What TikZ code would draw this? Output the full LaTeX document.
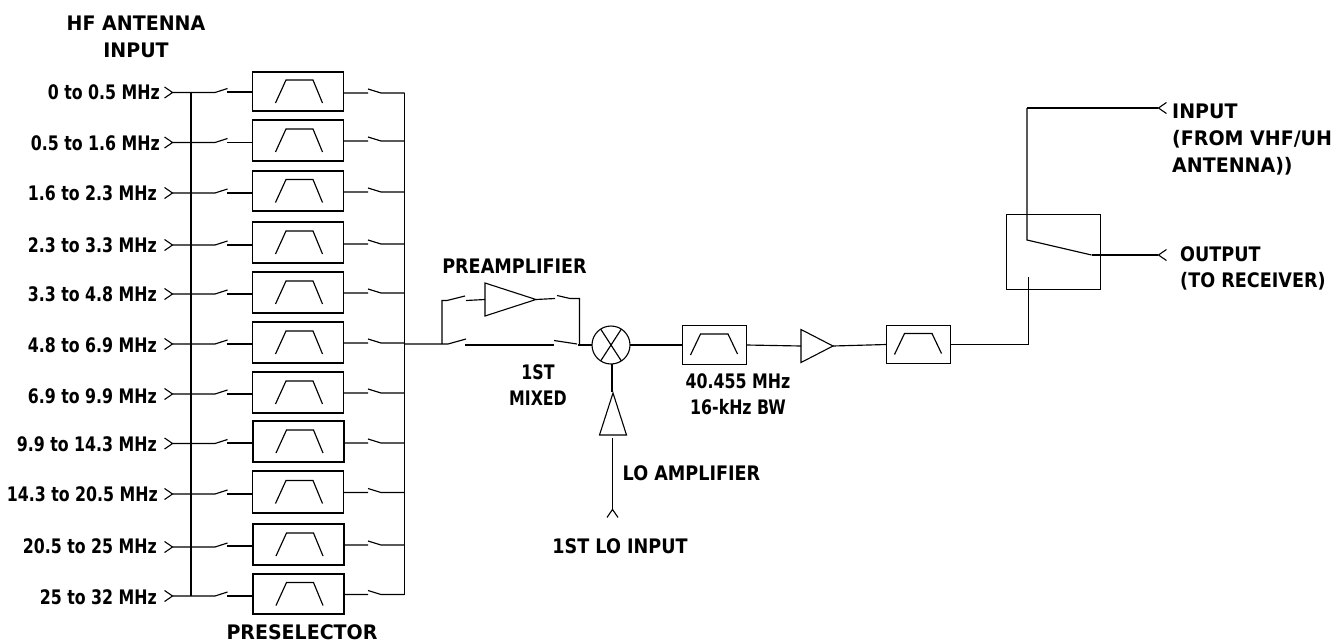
\documentclass[tikz,border=0pt]{standalone}
\usepackage{fontspec}
\setmainfont{DejaVu Sans}
\newfontfamily\bandfont[FakeStretch=0.79]{DejaVu Sans}
\newfontfamily\midfont[FakeStretch=0.88]{DejaVu Sans}
\newfontfamily\widefont[FakeStretch=0.95]{DejaVu Sans}
\usetikzlibrary{arrows.meta,positioning,calc,shapes.geometric}
\tikzset{
  wire/.style={line width=1.15pt},
  jack/.style={wire, {Straight Barb[reversed,length=8pt,width=11pt,line width=1.1pt]}-},
  jackend/.style={wire, -{Straight Barb[reversed,length=8pt,width=11pt,line width=1.1pt]}},
  filterbox/.style={draw, line width=1.3pt, minimum width=91pt, minimum height=41pt, inner sep=0pt, outer sep=0pt,
    path picture={\draw[wire] ($(path picture bounding box.center)+(-22.5,11.5)$) -- ++(10.5,-23) -- ++(27,0) -- ++(9.5,23);}},
  smallfilter/.style={draw, line width=1.2pt, minimum width=64pt, minimum height=38.5pt, inner sep=0pt, outer sep=0pt,
    path picture={\draw[wire] ($(path picture bounding box.center)+(-24,10)$) -- ++(10,-21) -- ++(27.5,0) -- ++(9.5,20);}},
  amptri/.style={draw, line width=1.1pt, isosceles triangle, isosceles triangle stretches, inner sep=0pt, outer sep=0pt},
  caption/.style={font=\midfont\fontsize{20}{26}\selectfont\bfseries, align=center, inner sep=0pt},
  widecaption/.style={caption, font=\widefont\fontsize{20}{27}\selectfont\bfseries},
  narrowcaption/.style={caption, font=\bandfont\fontsize{20}{26}\selectfont\bfseries},
  bandlabel/.style={narrowcaption, anchor=east}
}
\begin{document}
\begin{tikzpicture}[x=1pt, y=-1pt]
  \useasboundingbox (0,0) rectangle (1344,643);

  % Antenna title
  \node[widecaption] (hftitle) at (136,37) {HF ANTENNA\\INPUT};

  % Band 1
  \node[bandlabel] (band1) at (160,92) {0 to 0.5 MHz};
  \node[filterbox, minimum height=39pt] (filt1) at (298,91.5) {};
  \draw[jack] (164,92.5) -- (215,92.5) -- ++(12.5,-4);
  \draw[wire] (227,92) -- (filt1.west |- 0,92);
  \draw[wire] (filt1.east |- 0,93) -- (368,93) ++(0,-4) -- ++(13,4) -- (404.5,93);

  % Band 2
  \node[bandlabel] (band2) at (160,143.5) {0.5 to 1.6 MHz};
  \node[filterbox] (filt2) at (298,140.5) {};
  \draw[jack] (164,142.5) -- (215,142.5) -- ++(12.5,-4);
  \draw[wire] (227,142.5) -- (filt2.west |- 0,142.5);
  \draw[wire] (filt2.east |- 0,141) -- (368,141) ++(0,-4) -- ++(13,4) -- (404.5,141);

  % Band 3
  \node[bandlabel] (band3) at (157,193.5) {1.6 to 2.3 MHz};
  \node[filterbox, minimum height=40pt] (filt3) at (298,191) {};
  \draw[jack] (164,193) -- (215,193) -- ++(12.5,-4);
  \draw[wire] (227,193) -- (filt3.west |- 0,193);
  \draw[wire] (filt3.east |- 0,192) -- (368,192) ++(0,-4) -- ++(13,4) -- (404.5,192);

  % Band 4
  \node[bandlabel] (band4) at (157,245) {2.3 to 3.3 MHz};
  \node[filterbox] (filt4) at (298,242.5) {};
  \draw[jack] (164,245) -- (215,245) -- ++(12.5,-4);
  \draw[wire] (227,245) -- (filt4.west |- 0,245);
  \draw[wire] (filt4.east |- 0,244) -- (368,244) ++(0,-4) -- ++(13,4) -- (404.5,244);

  % Band 5
  \node[bandlabel] (band5) at (157,294) {3.3 to 4.8 MHz};
  \node[filterbox] (filt5) at (298,292.5) {};
  \draw[jack] (164,294) -- (215,294) -- ++(12.5,-4);
  \draw[wire] (227,294) -- (filt5.west |- 0,294);
  \draw[wire] (filt5.east |- 0,293) -- (368,293) ++(0,-4) -- ++(13,4) -- (404.5,293);

  % Band 6
  \node[bandlabel] (band6) at (157,345) {4.8 to 6.9 MHz};
  \node[filterbox] (filt6) at (298,342.5) {};
  \draw[jack] (164,344) -- (215,344) -- ++(12.5,-4);
  \draw[wire] (227,344) -- (filt6.west |- 0,344);
  \draw[wire] (filt6.east |- 0,343) -- (368,343) ++(0,-4) -- ++(13,4) -- (404.5,343);

  % Band 7
  \node[bandlabel] (band7) at (157,396) {6.9 to 9.9 MHz};
  \node[filterbox] (filt7) at (298,392.5) {};
  \draw[jack] (164,394) -- (215,394) -- ++(12.5,-4);
  \draw[wire] (227,394) -- (filt7.west |- 0,394);
  \draw[wire] (filt7.east |- 0,393) -- (368,393) ++(0,-4) -- ++(13,4) -- (404.5,393);

  % Band 8
  \node[bandlabel] (band8) at (157,444) {9.9 to 14.3 MHz};
  \node[filterbox] (filt8) at (298.5,441.5) {};
  \draw[jack] (164,443.5) -- (215,443.5) -- ++(12.5,-4);
  \draw[wire] (227,443) -- (filt8.west |- 0,443);
  \draw[wire] (filt8.east |- 0,443) -- (368,443) ++(0,-4) -- ++(13,4) -- (404.5,443);

  % Band 9
  \node[bandlabel] (band9) at (158,494) {14.3 to 20.5 MHz};
  \node[filterbox, minimum height=42pt] (filt9) at (298,492) {};
  \draw[jack] (164,494) -- (215,494) -- ++(12.5,-4);
  \draw[wire] (227,494) -- (filt9.west |- 0,494);
  \draw[wire] (filt9.east |- 0,492.5) -- (368,492.5) ++(0,-4) -- ++(13,4) -- (404.5,492.5);

  % Band 10
  \node[bandlabel] (band10) at (157,546) {20.5 to 25 MHz};
  \node[filterbox] (filt10) at (298.5,544.5) {};
  \draw[jack] (164,547) -- (215,547) -- ++(12.5,-4);
  \draw[wire] (227,546) -- (filt10.west |- 0,546);
  \draw[wire] (filt10.east |- 0,545) -- (368,545) ++(0,-4) -- ++(13,4) -- (404.5,545);

  % Band 11
  \node[bandlabel] (band11) at (157,597) {25 to 32 MHz};
  \node[filterbox, minimum height=40pt] (filt11) at (298.5,594) {};
  \draw[jack] (164,596) -- (215,596) -- ++(12.5,-4);
  \draw[wire] (227,596) -- (filt11.west |- 0,596);
  \draw[wire] (filt11.east |- 0,594.5) -- (368,594.5) ++(0,-4) -- ++(13,4) -- (404.5,594.5);

  % Input and output buses
  \draw[wire] (191,92.5) -- (191,596);
  \draw[wire] (404.5,92.5) -- (404.5,595);

  \node[widecaption] (preselector) at (302,632) {PRESELECTOR};

  % Preamplifier path
  \node[amptri, minimum width=33pt, minimum height=51pt, anchor=lower side] (preamp) at (485,299.5) {};
  \node[caption] (preamplabel) at (514.5,266) {PREAMPLIFIER};
  \draw[wire] (404.5,344) -- (448,344) -- ++(18,-5);
  \draw[wire] (442,344) |- (447,300.5) -- ++(18,-4.5);
  \draw[wire] (466,300.5) -- (preamp.lower side);
  \draw[wire] (preamp.apex) -- (555,298.5);
  \draw[wire] (557,295.5) -- (570,298.5) -- (579.5,298.5) -- (579.5,345);

  % Bypass and mixer
  \node[draw, line width=1.1pt, circle, minimum size=38pt, inner sep=0pt, outer sep=0pt] (mixer) at (611,345) {};
  \draw[wire] (mixer.57) -- (mixer.237);
  \draw[wire] (mixer.123) -- (mixer.303);
  \draw[wire] (465,345) -- (554,345);
  \draw[wire] (554,340.5) -- (577,344);
  \draw[wire] (578,345) -- (mixer.west);
  \node[narrowcaption] (mixedlabel) at (538,385) {1ST\\MIXED};

  % LO amplifier
  \node[amptri, shape border rotate=90, minimum width=27pt, minimum height=42pt, anchor=lower side] (loamp) at (613,435) {};
  \coordinate (loin) at (612.5,438);
  \draw[wire] (mixer.south -| 612,0) -- (612,392);
  \draw[jackend] (loin) -- (612.5,518);
  \node[caption] (loamplabel) at (691.5,473) {LO AMPLIFIER};
  \node[caption] (loinput) at (620,546) {1ST LO INPUT};

  % IF filter and amplifier
  \node[smallfilter] (iffilter) at (714.5,345) {};
  \draw[wire] (mixer.east) -- (iffilter.west);
  \node[narrowcaption] (iflabel) at (738,394) {40.455 MHz\\16-kHz BW};
  \node[amptri, minimum width=33pt, minimum height=32pt, anchor=lower side] (ifamp) at (801,346) {};
  \draw[wire] (iffilter.east) -- (ifamp.lower side);
  \node[smallfilter] (outfilter) at (918.5,344.5) {};
  \draw[wire] (ifamp.apex) -- (outfilter.west);

  % Antenna switch
  \node[draw, line width=1pt, minimum width=94pt, minimum height=75pt, inner sep=0pt, outer sep=0pt] (switch) at (1053.5,251.5) {};
  \coordinate (swpole) at (1027,240);
  \coordinate (swblade) at (1091.5,255);
  \draw[wire] (outfilter.east) -| (1028.5,277);
  \draw[wire] (swblade) -- (swpole) -- (1027,108);
  \draw[jackend] (1027,108) -- (1167,108);
  \draw[jackend] (swblade) -- (1167,255);
  \node[widecaption, align=left, anchor=north west] (inputlabel) at (1172,104) {INPUT\\(FROM VHF/UH\\ANTENNA))};
  \node[caption, align=left, anchor=north west] (outputlabel) at (1180,246.5) {OUTPUT\\(TO RECEIVER)};
\end{tikzpicture}
\end{document}
